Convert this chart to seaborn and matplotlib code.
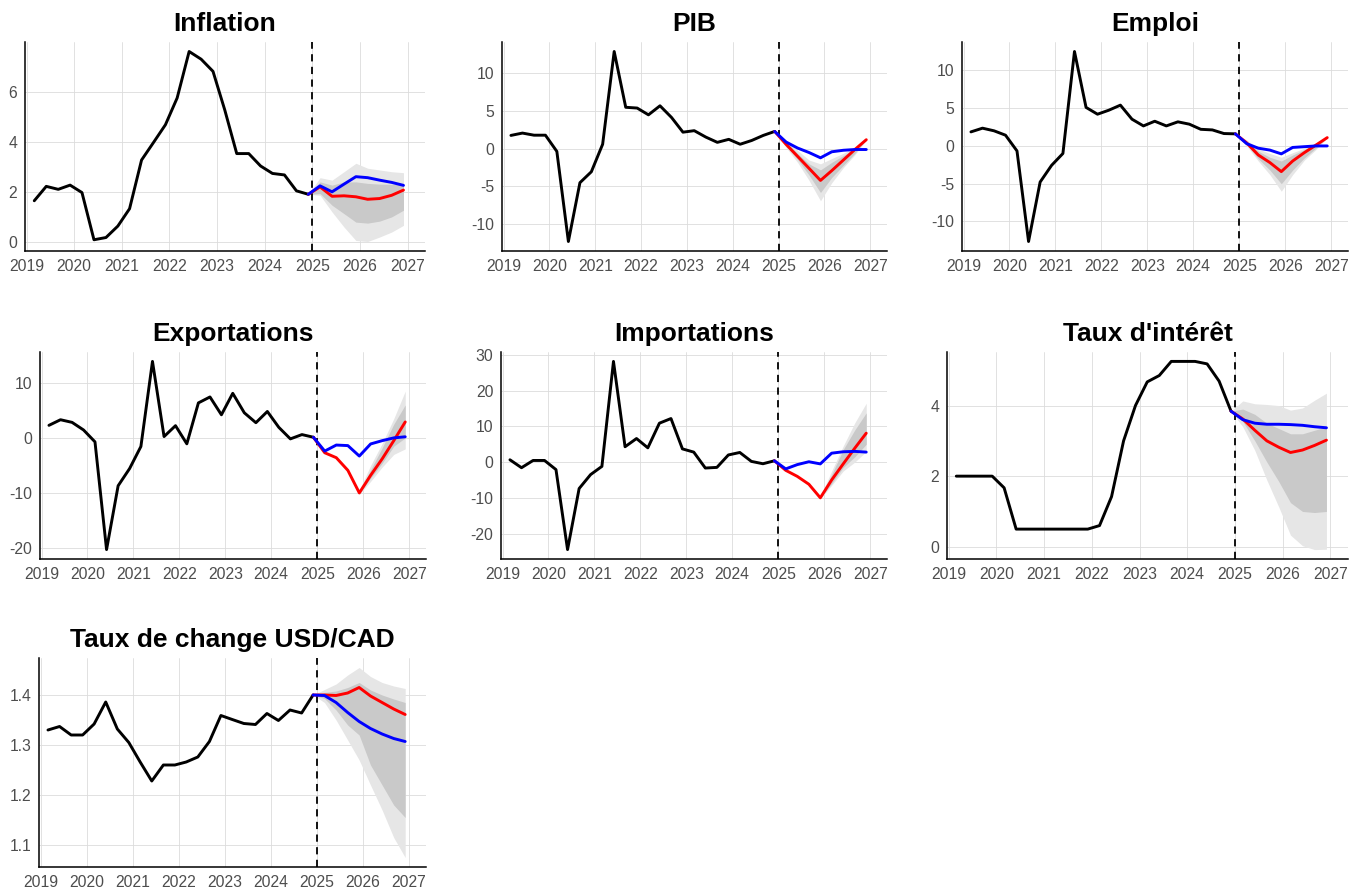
import matplotlib
matplotlib.use('Agg')
import matplotlib.pyplot as plt
import matplotlib.dates as mdates
from matplotlib.ticker import FixedLocator, FormatStrFormatter
import seaborn as sns
import pandas as pd

sns.set_style("white")
plt.rcParams['font.family'] = ['Liberation Sans', 'DejaVu Sans']
plt.rcParams['axes.unicode_minus'] = False

# quarterly dates (history 2019Q1-2024Q4, forecast starts at last observed point)
hist_dates = pd.date_range('2019-03-01', periods=24, freq='3MS')
fcst_dates = pd.date_range('2024-12-01', periods=9, freq='3MS')

# ---- Inflation
infl_hist = [1.64, 2.22, 2.1, 2.27, 1.97, 0.07, 0.16, 0.62, 1.32, 3.28, 3.99, 4.7,
             5.78, 7.65, 7.34, 6.85, 5.3, 3.54, 3.54, 3.04, 2.74, 2.68, 2.04, 1.9]
infl_blue = [1.9, 2.24, 2.0, 2.31, 2.61, 2.57, 2.47, 2.38, 2.26]
infl_red = [1.9, 2.2, 1.82, 1.84, 1.8, 1.7, 1.73, 1.86, 2.07]
infl_lo_out = [1.9, 1.86, 1.19, 0.58, 0.04, 0.0, 0.18, 0.38, 0.65]
infl_hi_out = [1.9, 2.57, 2.47, 2.81, 3.15, 2.95, 2.88, 2.81, 2.77]
infl_lo_in = [1.9, 1.93, 1.46, 1.12, 0.78, 0.74, 0.82, 0.99, 1.26]
infl_hi_in = [1.9, 2.4, 2.27, 2.4, 2.4, 2.34, 2.31, 2.3, 2.3]
infl_ticks = [0, 2, 4, 6]

# ---- PIB
pib_hist = [1.77, 2.08, 1.8, 1.8, -0.35, -12.3, -4.5, -3.05, 0.6, 12.9, 5.5, 5.4,
            4.5, 5.7, 4.15, 2.2, 2.4, 1.55, 0.85, 1.25, 0.6, 1.1, 1.77, 2.3]
pib_blue = [2.3, 0.9, 0.1, -0.5, -1.2, -0.4, -0.2, -0.1, -0.1]
pib_red = [2.3, 0.6, -1.0, -2.6, -4.2, -2.9, -1.5, -0.1, 1.2]
pib_lo_out = [2.3, 0.2, -1.8, -4.2, -6.9, -4.5, -2.5, -0.8, 1.2]
pib_hi_out = [2.3, 1.2, -0.2, -1.5, -2.0, -1.3, -0.6, 0.2, 1.2]
pib_lo_in = [2.3, 0.4, -1.4, -3.5, -5.8, -3.8, -2.2, -0.6, 1.2]
pib_hi_in = [2.3, 1.0, -0.6, -2.0, -2.8, -1.8, -0.9, 0.0, 1.2]
pib_ticks = [-10, -5, 0, 5, 10]

# ---- Emploi
emp_hist = [1.86, 2.35, 2.0, 1.42, -0.66, -12.65, -4.78, -2.57, -1.0, 12.5, 5.1, 4.2,
            4.73, 5.4, 3.54, 2.65, 3.27, 2.65, 3.19, 2.88, 2.2, 2.12, 1.64, 1.6]
emp_blue = [1.6, 0.3, -0.3, -0.55, -1.05, -0.2, -0.1, 0.0, 0.0]
emp_red = [1.6, 0.4, -1.2, -2.2, -3.4, -2.0, -0.9, 0.1, 1.1]
emp_lo_out = [1.6, 0.0, -2.0, -3.8, -6.0, -3.8, -1.9, -0.5, 1.1]
emp_hi_out = [1.6, 0.8, -0.4, -1.0, -1.5, -0.9, -0.3, 0.4, 1.1]
emp_lo_in = [1.6, 0.2, -1.7, -3.2, -5.0, -3.2, -1.6, -0.3, 1.1]
emp_hi_in = [1.6, 0.6, -0.7, -1.5, -2.0, -1.2, -0.5, 0.3, 1.1]
emp_ticks = [-10, -5, 0, 5, 10]

# ---- Exportations
exp_hist = [2.28, 3.3, 2.82, 1.44, -0.72, -20.3, -8.7, -5.58, -1.56, 13.9, 0.24, 2.22,
            -1.08, 6.36, 7.44, 4.2, 8.1, 4.56, 2.76, 4.8, 1.92, -0.18, 0.6, 0.12]
exp_blue = [0.12, -2.4, -1.3, -1.4, -3.3, -1.1, -0.5, 0.0, 0.2]
exp_red = [0.12, -2.7, -3.6, -5.9, -10.0, -6.8, -3.8, -0.5, 2.9]
exp_lo_out = [0.12, -2.7, -3.6, -5.9, -10.3, -7.9, -5.3, -3.0, -2.0]
exp_hi_out = [0.12, -2.7, -3.6, -5.9, -9.5, -5.0, -1.0, 3.5, 8.5]
exp_lo_in = [0.12, -2.7, -3.6, -5.9, -10.1, -7.3, -4.6, -1.5, 0.0]
exp_hi_in = [0.12, -2.7, -3.6, -5.9, -9.8, -5.8, -1.8, 2.5, 6.0]
exp_ticks = [-20, -10, 0, 10]

# ---- Importations
imp_hist = [0.65, -1.57, 0.46, 0.46, -2.1, -24.5, -7.4, -3.5, -1.2, 28.2, 4.3, 6.6,
            4.0, 10.9, 12.2, 3.7, 2.8, -1.66, -1.48, 2.0, 2.7, 0.2, -0.46, 0.37]
imp_blue = [0.37, -1.9, -0.7, 0.1, -0.5, 2.5, 2.9, 3.0, 2.8]
imp_red = [0.37, -2.3, -4.0, -6.2, -10.0, -5.0, -0.5, 3.9, 8.1]
imp_lo_out = [0.37, -2.3, -4.0, -6.2, -10.3, -6.5, -2.5, 0.0, 3.0]
imp_hi_out = [0.37, -2.3, -4.0, -6.2, -9.7, -2.5, 4.5, 11.0, 16.5]
imp_lo_in = [0.37, -2.3, -4.0, -6.2, -10.1, -6.0, -1.5, 1.5, 5.0]
imp_hi_in = [0.37, -2.3, -4.0, -6.2, -9.9, -3.5, 3.5, 9.0, 13.8]
imp_ticks = [-20, -10, 0, 10, 20, 30]

# ---- Taux d'intérêt
rate_hist = [2.0, 2.0, 2.0, 2.0, 1.67, 0.5, 0.5, 0.5, 0.5, 0.5, 0.5, 0.5,
             0.6, 1.42, 3.0, 4.0, 4.67, 4.85, 5.25, 5.25, 5.25, 5.18, 4.69, 3.84]
rate_blue = [3.84, 3.6, 3.5, 3.47, 3.47, 3.46, 3.44, 3.4, 3.37]
rate_red = [3.84, 3.62, 3.3, 3.0, 2.82, 2.67, 2.74, 2.87, 3.02]
rate_lo_out = [3.84, 3.4, 2.73, 1.89, 1.13, 0.33, 0.03, -0.08, -0.07]
rate_hi_out = [3.84, 4.13, 4.05, 4.03, 4.0, 3.87, 3.93, 4.15, 4.35]
rate_lo_in = [3.84, 3.55, 3.0, 2.4, 1.85, 1.25, 1.0, 0.97, 1.0]
rate_hi_in = [3.84, 3.9, 3.75, 3.5, 3.35, 3.2, 3.2, 3.3, 3.4]
rate_ticks = [0, 2, 4]

# ---- Taux de change USD/CAD
fx_hist = [1.330, 1.337, 1.320, 1.320, 1.342, 1.386, 1.332, 1.305, 1.266, 1.228, 1.260, 1.260,
           1.266, 1.276, 1.307, 1.359, 1.351, 1.343, 1.341, 1.363, 1.349, 1.370, 1.364, 1.400]
fx_blue = [1.400, 1.399, 1.385, 1.365, 1.347, 1.333, 1.322, 1.313, 1.307]
fx_red = [1.400, 1.400, 1.399, 1.404, 1.415, 1.398, 1.385, 1.372, 1.361]
fx_lo_out = [1.400, 1.385, 1.350, 1.310, 1.270, 1.220, 1.170, 1.115, 1.075]
fx_hi_out = [1.400, 1.411, 1.422, 1.440, 1.455, 1.437, 1.425, 1.418, 1.413]
fx_lo_in = [1.400, 1.393, 1.370, 1.340, 1.320, 1.260, 1.220, 1.180, 1.155]
fx_hi_in = [1.400, 1.405, 1.408, 1.415, 1.425, 1.410, 1.400, 1.392, 1.385]
fx_ticks = [1.1, 1.2, 1.3, 1.4]

panels = [
    ("Inflation", infl_hist, infl_blue, infl_red, infl_lo_out, infl_hi_out, infl_lo_in, infl_hi_in, infl_ticks, (25, 425, 42, 251)),
    ("PIB", pib_hist, pib_blue, pib_red, pib_lo_out, pib_hi_out, pib_lo_in, pib_hi_in, pib_ticks, (502, 887, 42, 251)),
    ("Emploi", emp_hist, emp_blue, emp_red, emp_lo_out, emp_hi_out, emp_lo_in, emp_hi_in, emp_ticks, (962, 1348, 42, 251)),
    ("Exportations", exp_hist, exp_blue, exp_red, exp_lo_out, exp_hi_out, exp_lo_in, exp_hi_in, exp_ticks, (40, 426, 352, 559)),
    ("Importations", imp_hist, imp_blue, imp_red, imp_lo_out, imp_hi_out, imp_lo_in, imp_hi_in, imp_ticks, (501, 887, 352, 559)),
    ("Taux d'intérêt", rate_hist, rate_blue, rate_red, rate_lo_out, rate_hi_out, rate_lo_in, rate_hi_in, rate_ticks, (947, 1348, 352, 559)),
    ("Taux de change USD/CAD", fx_hist, fx_blue, fx_red, fx_lo_out, fx_hi_out, fx_lo_in, fx_hi_in, fx_ticks, (39, 426, 658, 867)),
]

W, H = 1359, 890
fig = plt.figure(figsize=(W / 100, H / 100), dpi=100)

for title, hist, blue, red, lo_o, hi_o, lo_i, hi_i, yticks, (x0, x1, y0, y1) in panels:
    ax = fig.add_axes([x0 / W, 1 - y1 / H, (x1 - x0) / W, (y1 - y0) / H])
    ax.set_axisbelow(True)
    ax.grid(True, color='#dcdcdc', linewidth=0.6)

    ax.fill_between(fcst_dates, lo_o, hi_o, color='#e6e6e6', linewidth=0)
    ax.fill_between(fcst_dates, lo_i, hi_i, color='#c9c9c9', linewidth=0)
    ax.axvline(pd.Timestamp('2025-01-01'), color='black', linestyle=(0, (4, 3)), linewidth=1.3)

    sns.lineplot(x=hist_dates, y=hist, ax=ax, color='black', linewidth=2.1)
    sns.lineplot(x=fcst_dates, y=red, ax=ax, color='#ff0000', linewidth=2.1)
    sns.lineplot(x=fcst_dates, y=blue, ax=ax, color='#0000ff', linewidth=2.1)

    ax.set_xlim(pd.Timestamp('2018-12-20'), pd.Timestamp('2027-05-15'))
    ax.margins(y=0.05)
    ax.xaxis.set_major_locator(mdates.YearLocator())
    ax.xaxis.set_major_formatter(mdates.DateFormatter('%Y'))
    ax.yaxis.set_major_locator(FixedLocator(yticks))
    if yticks[0] < 1 and max(yticks) < 2 and yticks[0] != 0:
        ax.yaxis.set_major_formatter(FormatStrFormatter('%.1f'))
    ax.set_xlabel('')
    ax.set_ylabel('')
    ax.set_title(title, fontsize=19, fontweight='bold', color='black', pad=8)

    for side in ['top', 'right']:
        ax.spines[side].set_visible(False)
    for side in ['left', 'bottom']:
        ax.spines[side].set_color('black')
        ax.spines[side].set_linewidth(1.1)
    ax.tick_params(axis='both', length=3.5, width=0.9, color='#333333',
                   labelsize=11.3, labelcolor='#4d4d4d', pad=2)

fig.savefig('out.png', dpi=100)
